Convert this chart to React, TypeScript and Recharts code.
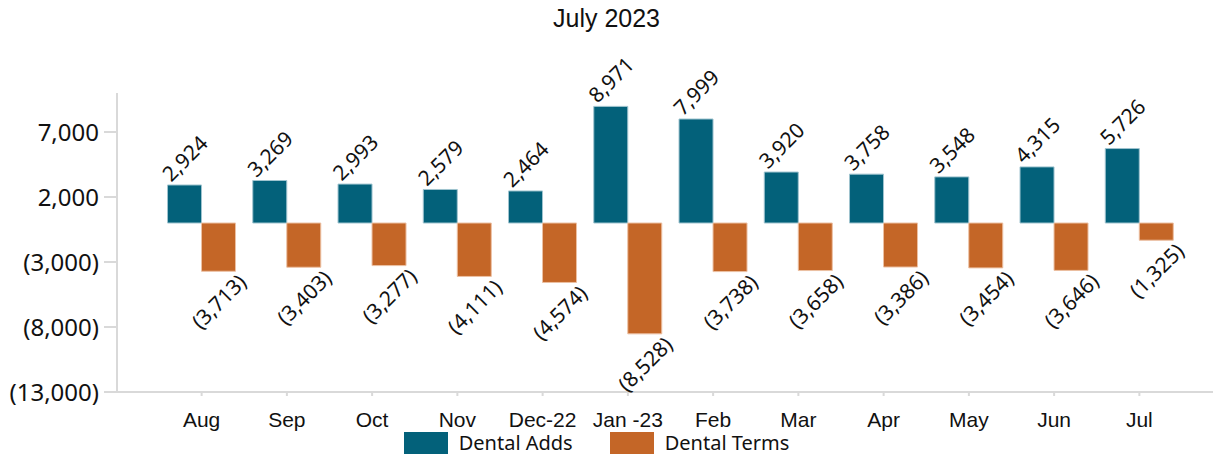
import React from "react";
import { Bar, BarChart, XAxis, YAxis, Legend, LabelList } from "recharts";

const months = ["Aug", "Sep", "Oct", "Nov", "Dec-22", "Jan -23", "Feb", "Mar", "Apr", "May", "Jun", "Jul"];
const dentalAdds = [2924, 3269, 2993, 2579, 2464, 8971, 7999, 3920, 3758, 3548, 4315, 5726];
const dentalTerms = [-3713, -3403, -3277, -4111, -4574, -8528, -3738, -3658, -3386, -3454, -3646, -1325];
const yTicks = [-13000, -8000, -3000, 2000, 7000];

const TEAL = "#03617A";
const ORANGE = "#C46627";
const AXIS = "#d9d9d9";
const LABEL_FONT = "'Noto Sans', 'Open Sans', sans-serif";

const fmt = (v: number) => {
  const s = Math.abs(v).toLocaleString("en-US");
  return v < 0 ? `(${s})` : s;
};

const data = months.map((m, i) => ({ month: m, adds: dentalAdds[i], terms: dentalTerms[i] }));

function BarLabel(props: any) {
  const { x, y, width, height, value } = props;
  const top = Math.min(y, y + height);
  const bottom = Math.max(y, y + height);
  const cx = x + width / 2;
  const cy = value < 0 ? bottom + 30 : top - 27;
  return (
    <text
      x={cx}
      y={cy}
      textAnchor="middle"
      dominantBaseline="central"
      transform={`rotate(-45 ${cx} ${cy})`}
      fontSize={21}
      fontFamily={LABEL_FONT}
      fill="#111"
    >
      {fmt(value)}
    </text>
  );
}

function LegendBox() {
  const items = [
    { name: "Dental Adds", color: TEAL },
    { name: "Dental Terms", color: ORANGE },
  ];
  return (
    <div style={{ display: "flex", justifyContent: "center", paddingRight: 20, gap: 37 }}>
      {items.map((it) => (
        <div key={it.name} style={{ display: "flex", alignItems: "center", gap: 11 }}>
          <span style={{ width: 44, height: 22, background: it.color, display: "inline-block" }} />
          <span style={{ fontFamily: LABEL_FONT, fontSize: 20, color: "#111" }}>{it.name}</span>
        </div>
      ))}
    </div>
  );
}

export default function App() {
  return (
    <div style={{ position: "absolute", left: 0, top: 0, width: 1213, height: 457, background: "#fff" }}>
      <div
        style={{
          position: "absolute",
          top: 4,
          left: 0,
          width: 1213,
          textAlign: "center",
          fontFamily: "'Liberation Sans', Arial, sans-serif",
          fontSize: 25,
          color: "#111",
        }}
      >
        July 2023
      </div>
      <BarChart
        width={1213}
        height={457}
        data={data}
        margin={{ top: 93, right: 0, left: 0, bottom: 0 }}
        barCategoryGap="10%"
        barGap={0}
      >
        <XAxis
          dataKey="month"
          height={37}
          padding={{ left: 42, right: 31 }}
          axisLine={{ stroke: AXIS, strokeWidth: 2 }}
          tickLine={{ stroke: AXIS, strokeWidth: 2 }}
          tickSize={4}
          tickMargin={16}
          interval={0}
          tick={{ fontSize: 21, fill: "#111", fontFamily: "'Liberation Sans', Arial, sans-serif" }}
        />
        <YAxis
          width={117}
          domain={[-13000, 10000]}
          ticks={yTicks}
          allowDataOverflow
          axisLine={{ stroke: AXIS, strokeWidth: 2 }}
          tickLine={{ stroke: AXIS, strokeWidth: 2 }}
          tickSize={13}
          tickMargin={5}
          tickFormatter={fmt}
          tick={{ fontSize: 24, fill: "#111", fontFamily: LABEL_FONT }}
        />
        <Legend verticalAlign="bottom" height={28} content={() => <LegendBox />} />
        <Bar dataKey="adds" name="Dental Adds" fill={TEAL} stroke="#9fc4cf" strokeWidth={1} isAnimationActive={false}>
          <LabelList dataKey="adds" content={BarLabel} />
        </Bar>
        <Bar dataKey="terms" name="Dental Terms" fill={ORANGE} stroke="#ecc0a3" strokeWidth={1} isAnimationActive={false}>
          <LabelList dataKey="terms" content={BarLabel} />
        </Bar>
      </BarChart>
    </div>
  );
}
